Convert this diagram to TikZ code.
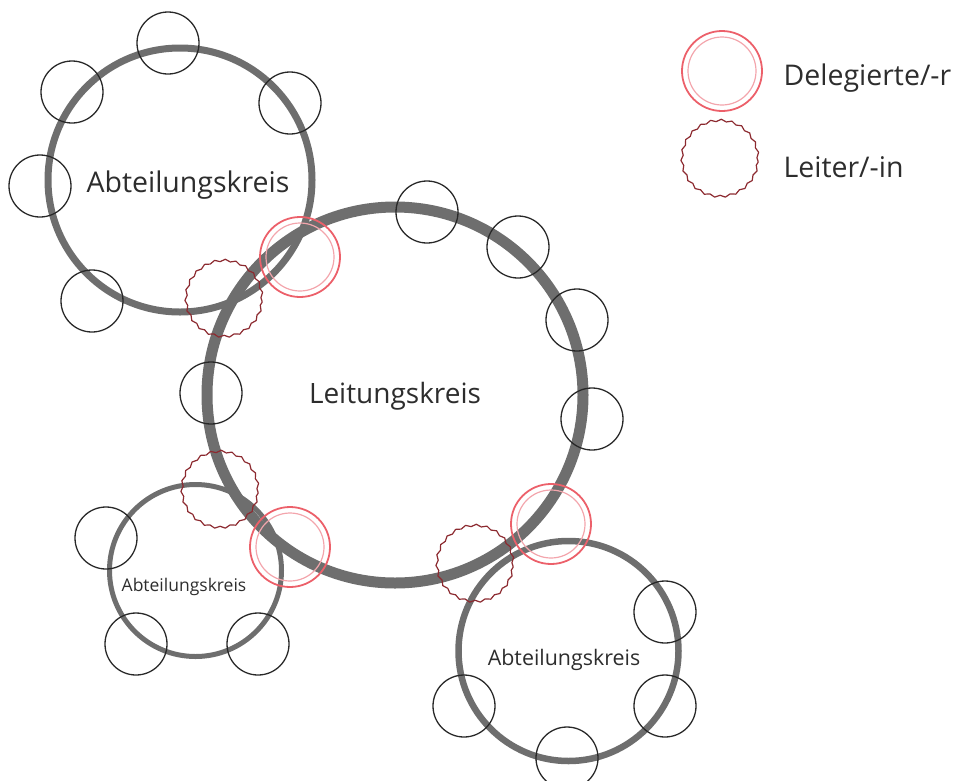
\documentclass[tikz,border=0pt]{standalone}
\usepackage{fontspec}
\setmainfont{Open Sans}
\usetikzlibrary{decorations.pathmorphing}
\definecolor{ringGray}{RGB}{110, 110, 110}
\definecolor{memberLine}{RGB}{40, 40, 40}
\definecolor{delegateRed}{RGB}{236, 96, 106}
\definecolor{delegatePink}{RGB}{243, 165, 172}
\definecolor{leaderRed}{RGB}{140, 42, 48}
\definecolor{labelText}{RGB}{45, 45, 45}

\begin{document}
\begin{tikzpicture}[x=1pt, y=-1pt]

% Style definitions
\tikzset{
    kreis/.style={
        circle, draw=ringGray, inner sep=0pt
    },
    member/.style={
        circle, draw=memberLine, line width=1.3pt, minimum size=62pt, inner sep=0pt
    },
    delegate/.style={
        circle, draw=delegateRed, line width=1.8pt, minimum size=80pt, inner sep=0pt,
        path picture={\draw[delegatePink, line width=1.2pt] (path picture bounding box.center) circle (34pt);}
    },
    leader/.style={
        circle, draw=leaderRed, line width=1.2pt, line join=round, minimum size=76pt, inner sep=0pt,
        decorate, decoration={snake, segment length=10.5pt, amplitude=1.1pt}
    },
    kreislabel/.style={anchor=base, text=labelText},
    legendtext/.style={anchor=base west, text=labelText, font=\fontsize{28.5}{34}\selectfont}
}

\useasboundingbox (0,0) rectangle (953,780);

% Circles of the groups
\node (abt_top) [kreis, line width=7pt, minimum size=264pt] at (180,180) {};
\node (leitung) [kreis, line width=11pt, minimum size=376pt] at (395,395) {};
\node (abt_left) [kreis, line width=5pt, minimum size=172pt] at (195.5,570.5) {};
\node (abt_right) [kreis, line width=6.5pt, minimum size=220pt] at (568.5,651) {};

% Members
\foreach \name/\pos in {m1/{(168,43)}, m2/{(72,92)}, m3/{(290,103)}, m4/{(40,186)}, m5/{(92,301)},
                        m6/{(427,212)}, m7/{(518,247)}, m8/{(577,320)}, m9/{(592,419)}, m10/{(211,393)},
                        m11/{(106,538)}, m12/{(136,644)}, m13/{(258,644)},
                        m14/{(665,612)}, m15/{(665,706)}, m16/{(464,706)}, m17/{(567,758)}}
    \node (\name) [member] at \pos {};

% Delegates
\node (del_top) [delegate] at (300,257) {};
\node (del_left) [delegate] at (290,547) {};
\node (del_right) [delegate] at (551,524) {};

% Leaders
\node (lead_top) [leader] at (224,301) {};
\node (lead_left) [leader] at (220,492) {};
\node (lead_right) [leader] at (475,566) {};

% Labels
\node (abt_top_label) [kreislabel, font=\fontsize{28.5}{34}\selectfont] at (188,192) {Abteilungskreis};
\node (leitung_label) [kreislabel, font=\fontsize{28}{34}\selectfont] at (395,403) {Leitungskreis};
\node (abt_left_label) [kreislabel, font=\fontsize{17.5}{21}\selectfont] at (184,591) {Abteilungskreis};
\node (abt_right_label) [kreislabel, font=\fontsize{21.4}{26}\selectfont] at (564,665) {Abteilungskreis};

% Legend
\node (key_delegate) [delegate] at (722,71) {};
\node (key_leader) [leader] at (720,161) {};
\node (key_delegate_text) [legendtext] at (780,85) {Delegierte/-r};
\node (key_leader_text) [legendtext] at (780,177) {Leiter/-in};

\end{tikzpicture}
\end{document}
